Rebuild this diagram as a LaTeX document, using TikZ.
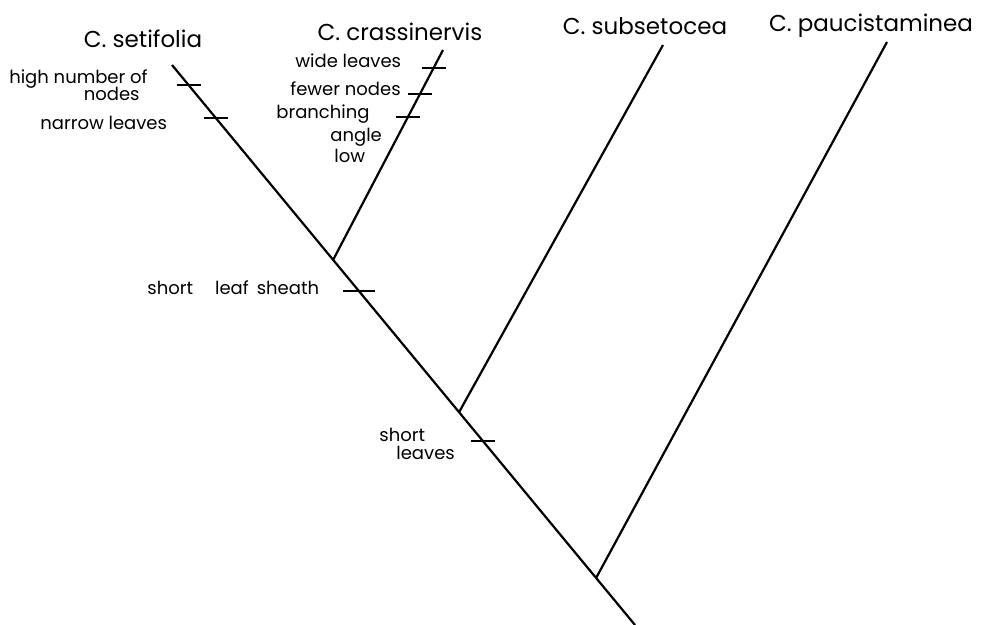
\documentclass[tikz,border=0pt]{standalone}
\usepackage{fontspec}
\setmainfont{Poppins}

\begin{document}
\begin{tikzpicture}[x=0.5pt,y=-0.5pt,
    branch/.style={line width=1.1pt},
    tickmark/.style={line width=1.1pt},
    taxon/.style={anchor=base,inner sep=0pt,font=\fontsize{11.5}{13}\selectfont},
    trait/.style={anchor=base west,inner sep=0pt,font=\fontsize{9}{11}\selectfont}]
    \useasboundingbox (0,0) rectangle (984,625);
    % Uiteinden van de takken
    \coordinate (root) at (635,625);
    \coordinate (setifolia) at (172,65);
    \coordinate (crassinervis) at (443,50);
    \coordinate (subsetocea) at (663,45);
    \coordinate (paucistaminea) at (887,42);
    % Splitsingen op de hoofdtak
    \path (setifolia) -- (root)
        coordinate[pos=0.036] (m1)
        coordinate[pos=0.095] (m2)
        coordinate[pos=0.348] (j1)
        coordinate[pos=0.404] (m3)
        coordinate[pos=0.620] (j2)
        coordinate[pos=0.671] (m4)
        coordinate[pos=0.916] (j3);
    \path (j1) -- (crassinervis)
        coordinate[pos=0.914] (c1)
        coordinate[pos=0.790] (c2)
        coordinate[pos=0.681] (c3);
    % Takken
    \draw[branch] (setifolia) -- (root);
    \draw[branch] (j1) -- (crassinervis);
    \draw[branch] (j2) -- (subsetocea);
    \draw[branch] (j3) -- (paucistaminea);
    % Kenmerkstreepjes
    \foreach \m in {m1,m2,c1,c2,c3,m4}
        \draw[tickmark] ([xshift=-6pt]\m) -- ([xshift=6pt]\m);
    \draw[tickmark] ([xshift=-8pt]m3) -- ([xshift=8pt]m3);
    % Soortnamen
    \node[taxon] (lsetifolia) at (143,48) {C. setifolia};
    \node[taxon] (lcrassinervis) at (400,41) {C. crassinervis};
    \node[taxon] (lsubsetocea) at (645,35) {C. subsetocea};
    \node[taxon] (lpaucistaminea) at (871,32) {C. paucistaminea};
    % Kenmerken (ankers op de basislijn van de laatste regel)
    \node[trait,anchor=base east,align=right] (tnodes) at (148,101)
        {high number of\\[-2.5pt]nodes\hspace*{4pt}};
    \node[trait] (tnarrow) at (40,130) {narrow leaves};
    \node[trait] (twide) at (295,68) {wide leaves};
    \node[trait] (tfewer) at (290,96) {fewer nodes};
    \node[trait,align=left] (tangle) at (276,163)
        {branching\\[0.5pt]\hspace*{27pt}angle\\[-0.5pt]\hspace*{29pt}low};
    \node[trait] (tsheath) at (147,295) {short\hspace{11pt}leaf\hspace{4pt}sheath};
    \node[trait,align=left] (tleaves) at (379,459)
        {short\\[-2pt]\hspace*{8.5pt}leaves};
\end{tikzpicture}
\end{document}
